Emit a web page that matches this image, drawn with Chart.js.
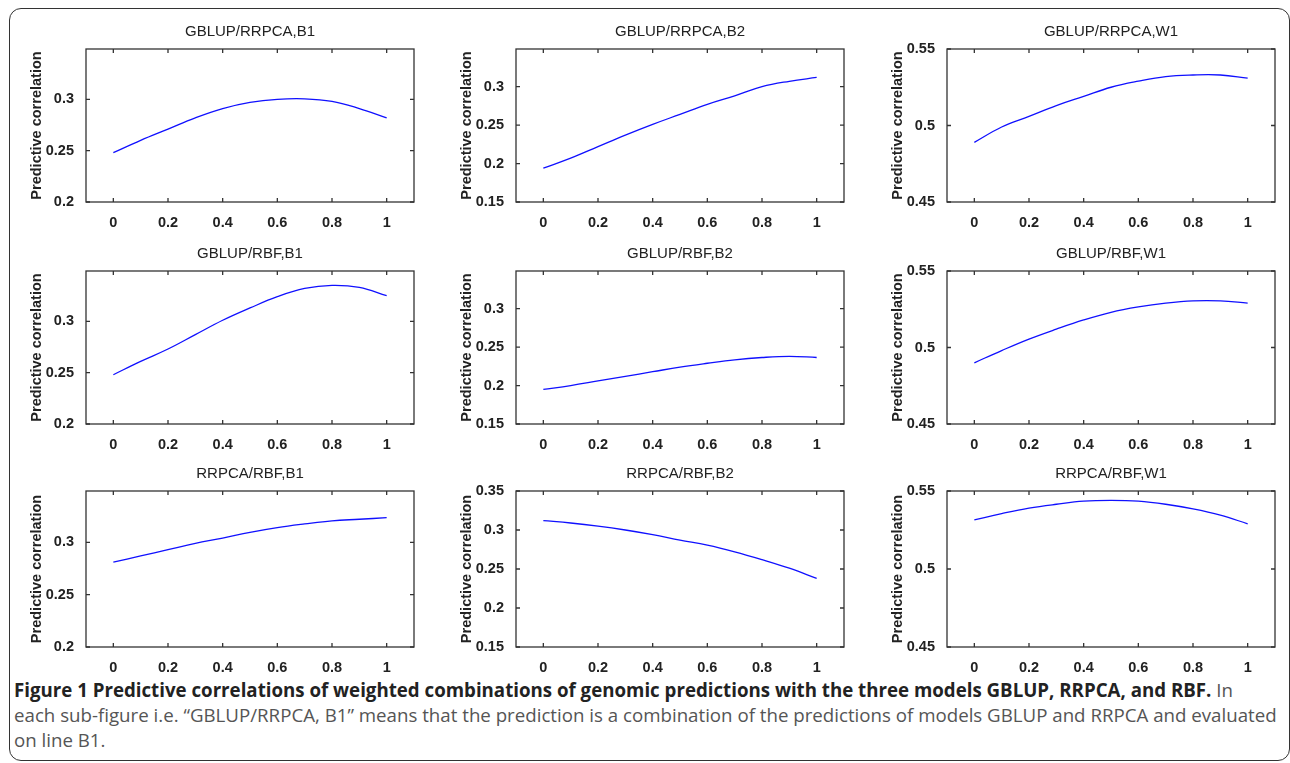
<!DOCTYPE html>
<html>
<head>
<meta charset="utf-8">
<title>Figure 1</title>
<script src="https://cdn.jsdelivr.net/npm/chart.js@4.4.1/dist/chart.umd.min.js"></script>
<style>
  html, body { margin: 0; padding: 0; background: #fff; }
  #page { position: relative; width: 1290px; height: 763px; overflow: hidden; }
  #frame {
    position: absolute; left: 9px; top: 8px; width: 1281px; height: 753px;
    border: 1.5px solid #333; border-radius: 12px; box-sizing: border-box;
  }
  .panel { position: absolute; }
  #caption {
    position: absolute; left: 14px; top: 677px;
    font-family: "Open Sans", sans-serif; font-size: 18.7px; line-height: 25px;
    color: #555; white-space: nowrap;
  }
  #caption b { color: #222; font-weight: 700; }
</style>
</head>
<body>
<div id="page">
  <div id="frame"></div>
  <div id="caption">
    <b>Figure 1 Predictive correlations of weighted combinations of genomic predictions with the three models GBLUP, RRPCA, and RBF.</b> In<br>
    each sub-figure i.e. “GBLUP/RRPCA, B1” means that the prediction is a combination of the predictions of models GBLUP and RRPCA and evaluated<br>
    on line B1.
  </div>
</div>
<script>
// data (weight on first model's prediction 0..1)
const weights = [0, 0.1, 0.2, 0.3, 0.4, 0.5, 0.6, 0.7, 0.8, 0.9, 1];
const xTicks = [0, 0.2, 0.4, 0.6, 0.8, 1];

const titles = [
  "GBLUP/RRPCA,B1", "GBLUP/RRPCA,B2", "GBLUP/RRPCA,W1",
  "GBLUP/RBF,B1", "GBLUP/RBF,B2", "GBLUP/RBF,W1",
  "RRPCA/RBF,B1", "RRPCA/RBF,B2", "RRPCA/RBF,W1"
];

const gblupRrpcaB1 = [0.248, 0.260, 0.271, 0.282, 0.291, 0.297, 0.300, 0.3005, 0.298, 0.291, 0.282];
const gblupRrpcaB2 = [0.194, 0.207, 0.222, 0.237, 0.251, 0.264, 0.277, 0.288, 0.300, 0.307, 0.312];
const gblupRrpcaW1 = [0.489, 0.499, 0.506, 0.513, 0.519, 0.525, 0.529, 0.532, 0.533, 0.533, 0.531];
const gblupRbfB1 = [0.248, 0.261, 0.273, 0.287, 0.301, 0.313, 0.324, 0.332, 0.335, 0.333, 0.325];
const gblupRbfB2 = [0.195, 0.200, 0.206, 0.212, 0.218, 0.224, 0.229, 0.2335, 0.2365, 0.238, 0.2365];
const gblupRbfW1 = [0.490, 0.498, 0.5055, 0.512, 0.518, 0.523, 0.5265, 0.529, 0.5305, 0.5305, 0.529];
const rrpcaRbfB1 = [0.281, 0.287, 0.293, 0.299, 0.304, 0.3095, 0.314, 0.3175, 0.3205, 0.322, 0.3235];
const rrpcaRbfB2 = [0.312, 0.309, 0.305, 0.300, 0.294, 0.287, 0.2805, 0.272, 0.262, 0.251, 0.238];
const rrpcaRbfW1 = [0.5315, 0.5355, 0.539, 0.5415, 0.5435, 0.544, 0.5435, 0.5415, 0.5385, 0.5345, 0.529];

const ticksB1 = [0.2, 0.25, 0.3];
const ticksB2 = [0.15, 0.2, 0.25, 0.3];
const ticksB2Full = [0.15, 0.2, 0.25, 0.3, 0.35];
const ticksW1 = [0.45, 0.5, 0.55];

const series = [gblupRrpcaB1, gblupRrpcaB2, gblupRrpcaW1, gblupRbfB1, gblupRbfB2, gblupRbfW1, rrpcaRbfB1, rrpcaRbfB2, rrpcaRbfW1];
const yRanges = [[0.2, 0.349], [0.15, 0.349], [0.45, 0.55], [0.2, 0.349], [0.15, 0.349], [0.45, 0.55], [0.2, 0.349], [0.15, 0.35], [0.45, 0.55]];
const yTickSets = [ticksB1, ticksB2, ticksW1, ticksB1, ticksB2, ticksW1, ticksB1, ticksB2Full, ticksW1];

// layout of the plot boxes
const plotLeft = [86, 516, 947];
const plotTop = [49, 271, 491];
const plotW = 328;
const plotH = [153, 153, 156];
const AXIS_W = 86, TITLE_H = 40, XAXIS_H = 28, PAD_R = 10;

const fontFamily = '"Liberation Sans", Arial, sans-serif';

// matlab style box with inward ticks on all four sides
const boxPlugin = {
  id: "matlabBox",
  afterDatasetsDraw(chart) {
    const { ctx, chartArea: a, scales } = chart;
    const len = 4;
    ctx.save();
    ctx.strokeStyle = "#333";
    ctx.lineWidth = 1.3;
    ctx.strokeRect(a.left, a.top, a.right - a.left, a.bottom - a.top);
    ctx.beginPath();
    scales.x.ticks.forEach(function (t) {
      const px = scales.x.getPixelForValue(t.value);
      ctx.moveTo(px, a.bottom); ctx.lineTo(px, a.bottom - len);
      ctx.moveTo(px, a.top); ctx.lineTo(px, a.top + len);
    });
    scales.y.ticks.forEach(function (t) {
      const py = scales.y.getPixelForValue(t.value);
      ctx.moveTo(a.left, py); ctx.lineTo(a.left + len, py);
      ctx.moveTo(a.right, py); ctx.lineTo(a.right - len, py);
    });
    ctx.stroke();
    ctx.restore();
  }
};

const page = document.getElementById("page");

series.forEach(function (values, i) {
  const row = Math.floor(i / 3), col = i % 3;
  const canvas = document.createElement("canvas");
  const w = AXIS_W + plotW + PAD_R;
  const h = TITLE_H + plotH[row] + XAXIS_H;
  canvas.width = w;
  canvas.height = h;
  canvas.className = "panel";
  canvas.style.left = (plotLeft[col] - AXIS_W) + "px";
  canvas.style.top = (plotTop[row] - TITLE_H) + "px";
  page.appendChild(canvas);

  const yTicks = yTickSets[i];
  new Chart(canvas.getContext("2d"), {
    type: "line",
    data: {
      datasets: [{
        data: weights.map(function (x, k) { return { x: x, y: values[k] }; }),
        borderColor: "#1010ff",
        borderWidth: 1.3,
        pointRadius: 0,
        tension: 0.4,
        fill: false
      }]
    },
    options: {
      responsive: false,
      animation: false,
      layout: { padding: { left: 0, right: PAD_R, top: 0, bottom: 0 } },
      plugins: {
        legend: { display: false },
        tooltip: { enabled: false },
        title: {
          display: true,
          text: titles[i],
          fullSize: false,
          color: "#222",
          font: { family: fontFamily, size: 15, weight: "normal" },
          padding: { top: 14, bottom: 8 }
        }
      },
      scales: {
        x: {
          type: "linear",
          min: -0.1,
          max: 1.1,
          grid: { display: false },
          border: { display: false },
          afterBuildTicks: function (scale) {
            scale.ticks = xTicks.map(function (v) { return { value: v }; });
          },
          afterFit: function (scale) { scale.height = XAXIS_H; },
          ticks: {
            padding: 4,
            maxRotation: 0,
            color: "#222",
            font: { family: fontFamily, size: 14.5, weight: "bold" },
            callback: function (v) { return String(Math.round(v * 10) / 10); }
          }
        },
        y: {
          min: yRanges[i][0],
          max: yRanges[i][1],
          grid: { display: false },
          border: { display: false },
          afterBuildTicks: function (scale) {
            scale.ticks = yTicks.map(function (v) { return { value: v }; });
          },
          afterFit: function (scale) { scale.width = AXIS_W; },
          ticks: {
            padding: 4,
            color: "#222",
            font: { family: fontFamily, size: 14.5, weight: "bold" },
            callback: function (v) { return String(Math.round(v * 100) / 100); }
          },
          title: {
            display: true,
            text: "Predictive correlation",
            color: "#222",
            font: { family: fontFamily, size: 14.5, weight: "bold" },
            padding: { top: 28, bottom: 0 }
          }
        }
      }
    },
    plugins: [boxPlugin]
  });
});
</script>
</body>
</html>
